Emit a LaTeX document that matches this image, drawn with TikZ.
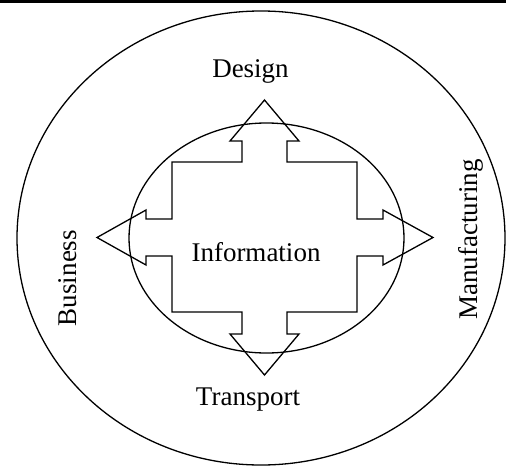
\documentclass[tikz,border=0pt]{standalone}
\usepackage{fontspec}
\setmainfont{Liberation Serif}
\begin{document}
\begin{tikzpicture}[x=1pt,y=-1pt,
  lbl/.style={font=\fontsize{27}{32}\selectfont, inner sep=0pt, anchor=base},
  ring/.style={draw, line width=1.3pt, ellipse, inner sep=0pt},
  crossline/.style={draw, line width=1.3pt, line join=miter}]
\useasboundingbox (0,0) rectangle (506,466);
\draw[line width=2.6pt] (0,1.3) -- (506,1.3);
\draw[line width=1.3pt] (261,238) ellipse [x radius=244, y radius=227];
\draw[line width=1.3pt] (266.5,238) ellipse [x radius=137.5, y radius=115];
\draw[crossline] (264.5,100) -- (299,141) -- (287,141) -- (287,162) -- (357,162) -- (357,219) -- (383,219) -- (383,210) -- (433,237.5) -- (383,265) -- (383,256) -- (357,256) -- (357,312) -- (287,312) -- (287,334) -- (299,334) -- (264.5,375) -- (230,334) -- (242,334) -- (242,312) -- (172,312) -- (172,256) -- (146,256) -- (146,265) -- (97,237.5) -- (146,210) -- (146,219) -- (172,219) -- (172,162) -- (242,162) -- (242,141) -- (230,141) -- cycle;
\node[lbl] (design) at (250.5,77) {Design};
\node[lbl] (info) at (256,261) {Information};
\node[lbl] (transport) at (248,405) {Transport};
\node[lbl, rotate=90] (business) at (76.5,278) {Business};
\node[lbl, rotate=90] (manuf) at (477,239.5) {Manufacturing};
\end{tikzpicture}
\end{document}
